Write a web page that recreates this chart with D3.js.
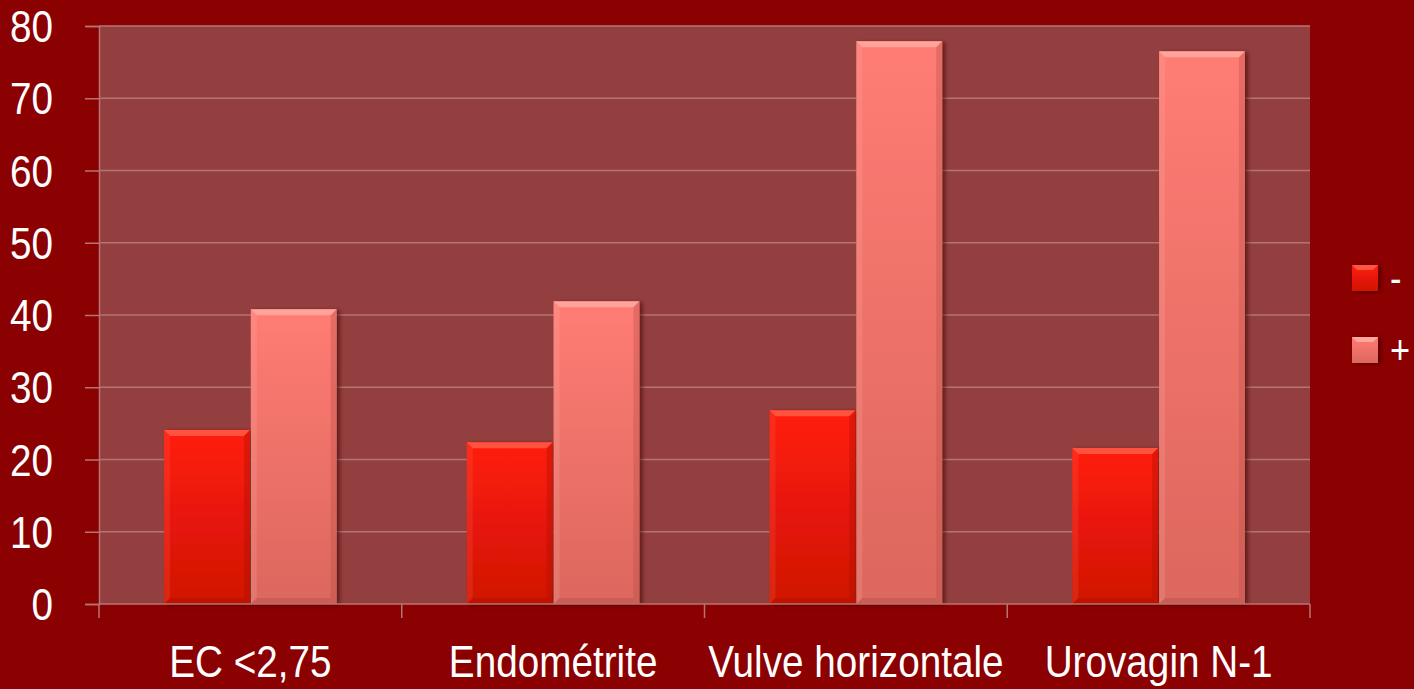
<!DOCTYPE html>
<html>
<head>
<meta charset="utf-8">
<script src="https://cdn.jsdelivr.net/npm/d3@7"></script>
<style>
  html, body { margin: 0; padding: 0; background: #8b0000; }
  svg { display: block; }
  text { font-family: "Liberation Sans Narrow", "Arial Narrow", "Liberation Sans", Arial, sans-serif; fill: #fff; }
</style>
</head>
<body>
<div id="chart"></div>
<script>
const categories = ["EC <2,75", "Endométrite", "Vulve horizontale", "Urovagin N-1"];
const seriesNames = ["-", "+"];
const minusValues = [24.1, 22.4, 26.8, 21.6];
const plusValues = [40.8, 41.9, 77.9, 76.5];
const yTicks = [0, 10, 20, 30, 40, 50, 60, 70, 80];

const W = 1414, H = 689;
const margin = {top: 26, right: 104, bottom: 85, left: 99};
const squeeze = 0.86; // no narrow font installed, so squash horizontally

const svg = d3.select("#chart").append("svg")
  .attr("width", W).attr("height", H);

const defs = svg.append("defs");
const grads = [
  {id: "gMinus", top: "#ff1c0a", bottom: "#d01505"},
  {id: "gPlus", top: "#ff7c74", bottom: "#dc675e"}
];
grads.forEach(g => {
  const lg = defs.append("linearGradient").attr("id", g.id)
    .attr("x1", 0).attr("y1", 0).attr("x2", 0).attr("y2", 1);
  lg.append("stop").attr("offset", "0%").attr("stop-color", g.top);
  lg.append("stop").attr("offset", "100%").attr("stop-color", g.bottom);
});
const shadow = defs.append("filter").attr("id", "shadow")
  .attr("x", "-10%").attr("y", "-10%").attr("width", "130%").attr("height", "120%");
shadow.append("feDropShadow").attr("dx", 3).attr("dy", 1).attr("stdDeviation", 2)
  .attr("flood-color", "#3a0000").attr("flood-opacity", 0.6);

const x0 = d3.scaleBand().domain(categories)
  .range([margin.left, W - margin.right]).paddingInner(0).paddingOuter(0);
const x1 = d3.scaleBand().domain(seriesNames)
  .range([0, x0.bandwidth()]).paddingInner(0.01).paddingOuter(0.75);
const y = d3.scaleLinear().domain([0, 80]).range([H - margin.bottom, margin.top]);

// helper: squeezed text
function label(parent, x, yy, txt, size, anchor) {
  parent.append("g")
    .attr("transform", `translate(${x},${yy}) scale(${squeeze},1)`)
    .append("text")
    .attr("text-anchor", anchor)
    .attr("font-size", size)
    .text(txt);
}

// plot area
svg.append("rect")
  .attr("x", margin.left).attr("y", margin.top)
  .attr("width", W - margin.right - margin.left)
  .attr("height", y(0) - margin.top)
  .attr("fill", "#943f3f");

// y axis ticks + gridlines
const yAxis = svg.append("g")
  .attr("transform", `translate(${margin.left},0)`)
  .call(d3.axisLeft(y).tickValues(yTicks).tickSize(14).tickFormat(""));
yAxis.select(".domain").attr("stroke", "#b57474").attr("stroke-width", 1.5);
yAxis.selectAll(".tick line").attr("stroke", "#b57474").attr("stroke-width", 1.5);

const yLabels = svg.append("g");
yTicks.forEach(t => label(yLabels, 53, y(t) + 16, String(t), 45, "end"));

svg.append("g").selectAll("line")
  .data(yTicks.filter(d => d > 0))
  .join("line")
  .attr("x1", margin.left).attr("x2", W - margin.right)
  .attr("y1", d => y(d)).attr("y2", d => y(d))
  .attr("stroke", "#b57474").attr("stroke-width", 1.5);

// bars
const data = categories.map((c, i) => ({cat: c, vals: [
  {s: "-", v: minusValues[i], g: "gMinus", hl: "#ff6a55", dk: "#a80d00"},
  {s: "+", v: plusValues[i], g: "gPlus", hl: "#ffb4ab", dk: "#b55048"}
]}));

const groups = svg.append("g").selectAll("g")
  .data(data).join("g")
  .attr("transform", d => `translate(${x0(d.cat)},0)`);

const bars = groups.selectAll("g.bar")
  .data(d => d.vals).join("g").attr("class", "bar");

bars.each(function(d) {
  const g = d3.select(this);
  const bx = x1(d.s), bw = x1.bandwidth();
  const by = y(d.v), bh = y(0) - y(d.v);
  const b = 6;
  const pts = a => a.map(p => p.join(",")).join(" ");
  g.append("rect").attr("x", bx).attr("y", by).attr("width", bw).attr("height", bh)
    .attr("fill", `url(#${d.g})`).attr("filter", "url(#shadow)");
  g.append("polygon")
    .attr("points", pts([[bx, by], [bx + bw, by], [bx + bw - b, by + b], [bx + b, by + b]]))
    .attr("fill", d.hl).attr("opacity", 0.7);
  g.append("polygon")
    .attr("points", pts([[bx, by], [bx + b, by + b], [bx + b, by + bh - b], [bx, by + bh]]))
    .attr("fill", d.hl).attr("opacity", 0.2);
  g.append("polygon")
    .attr("points", pts([[bx + bw, by], [bx + bw, by + bh], [bx + bw - b, by + bh - b], [bx + bw - b, by + b]]))
    .attr("fill", d.dk).attr("opacity", 0.35);
  g.append("polygon")
    .attr("points", pts([[bx, by + bh], [bx + bw, by + bh], [bx + bw - b, by + bh - b], [bx + b, by + bh - b]]))
    .attr("fill", d.dk).attr("opacity", 0.45);
});

// x axis
const xAxis = svg.append("g")
  .attr("transform", `translate(0,${y(0)})`);
xAxis.append("line")
  .attr("x1", margin.left).attr("x2", W - margin.right)
  .attr("stroke", "#b57474").attr("stroke-width", 1.5);
const tickPos = categories.map(c => x0(c)).concat([x0(categories[3]) + x0.bandwidth()]);
xAxis.selectAll("line.tk").data(tickPos).join("line").attr("class", "tk")
  .attr("x1", d => d).attr("x2", d => d).attr("y1", 0).attr("y2", 14)
  .attr("stroke", "#b57474").attr("stroke-width", 1.5);
categories.forEach(c => label(xAxis, x0(c) + x0.bandwidth() / 2, 73, c, 45, "middle"));

// legend
const legend = svg.append("g").attr("transform", "translate(1352,265)");
const legItems = [
  {name: seriesNames[0], g: "gMinus", hl: "#ff6a55"},
  {name: seriesNames[1], g: "gPlus", hl: "#ffb4ab"}
];
const li = legend.selectAll("g").data(legItems).join("g")
  .attr("transform", (d, i) => `translate(0,${i * 72})`);
li.append("rect").attr("width", 26).attr("height", 26)
  .attr("fill", d => `url(#${d.g})`).attr("filter", "url(#shadow)");
li.append("polygon").attr("points", "0,0 26,0 21,5 5,5").attr("fill", d => d.hl).attr("opacity", 0.75);
li.each(function(d) { label(d3.select(this), 38, 27, d.name, 40, "start"); });
</script>
</body>
</html>
